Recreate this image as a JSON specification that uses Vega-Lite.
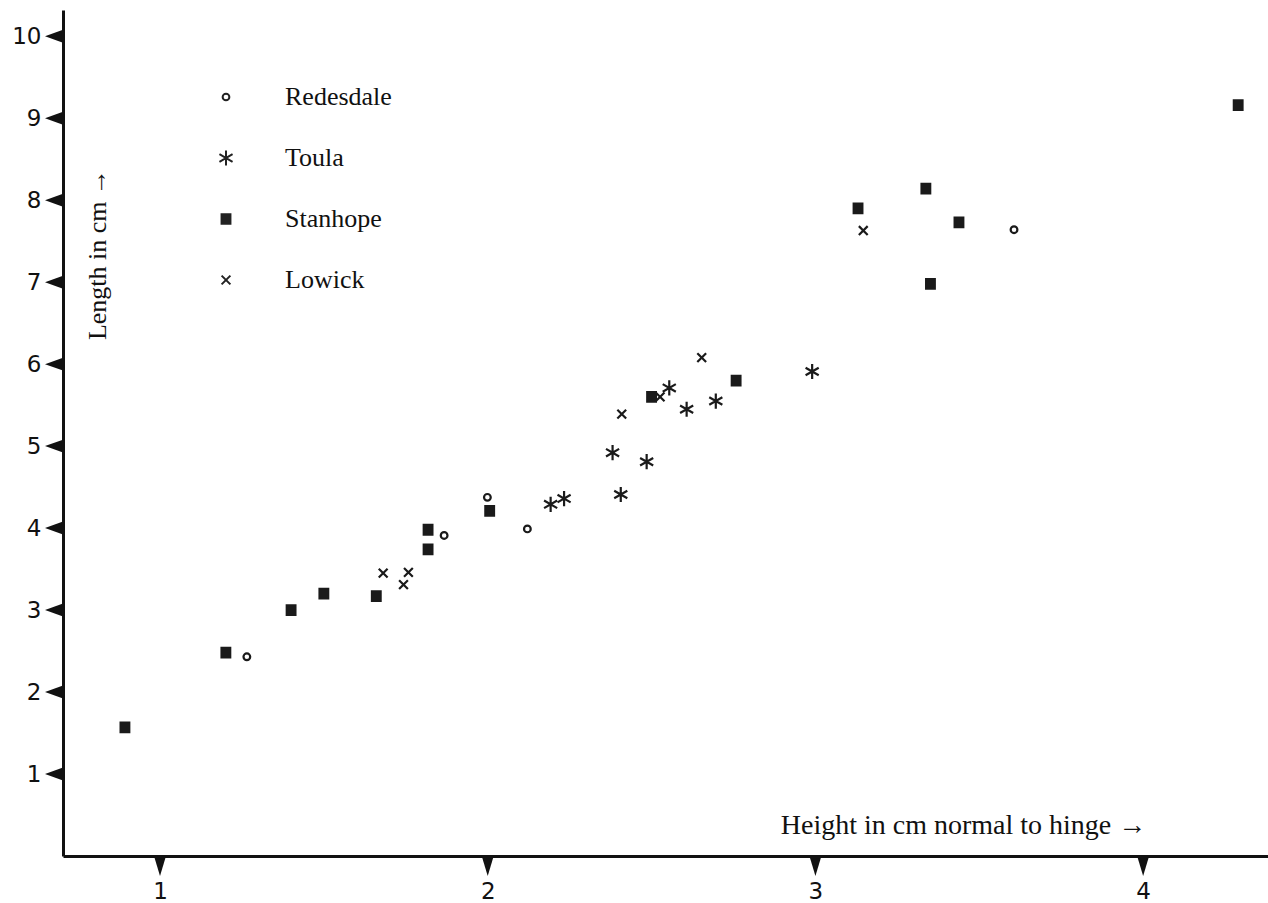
{
  "$schema": "https://vega.github.io/schema/vega-lite/v6.json",
  "width": 1205,
  "height": 846,
  "autosize": {"type": "none"},
  "padding": {"left": 63, "top": 10, "right": 0, "bottom": 47},
  "background": "white",
  "config": {
    "view": {"stroke": null},
    "axis": {
      "domainColor": "#111111",
      "domainWidth": 3,
      "ticks": false,
      "grid": false,
      "labelFont": "DejaVu Sans",
      "labelFontSize": 23,
      "labelColor": "#111111",
      "titleFont": "Liberation Serif",
      "titleFontSize": 28,
      "titleFontWeight": "normal",
      "titleColor": "#111111"
    },
    "legend": {
      "orient": "none",
      "legendX": 150,
      "legendY": 74,
      "padding": 0,
      "rowPadding": 35,
      "labelFont": "Liberation Serif",
      "labelFontSize": 26,
      "labelColor": "#111111",
      "labelOffset": 46,
      "title": null,
      "symbolSize": 256,
      "symbolStrokeColor": "#222222",
      "symbolStrokeWidth": 2
    }
  },
  "layer": [
    {
      "data": {
        "values": [
          {"h": 1.265, "l": 2.43, "s": "Redesdale"},
          {"h": 1.867, "l": 3.91, "s": "Redesdale"},
          {"h": 1.999, "l": 4.375, "s": "Redesdale"},
          {"h": 2.121, "l": 3.99, "s": "Redesdale"},
          {"h": 3.606, "l": 7.64, "s": "Redesdale"},
          {"h": 2.192, "l": 4.29, "s": "Toula"},
          {"h": 2.233, "l": 4.36, "s": "Toula"},
          {"h": 2.381, "l": 4.92, "s": "Toula"},
          {"h": 2.406, "l": 4.41, "s": "Toula"},
          {"h": 2.485, "l": 4.81, "s": "Toula"},
          {"h": 2.554, "l": 5.71, "s": "Toula"},
          {"h": 2.607, "l": 5.45, "s": "Toula"},
          {"h": 2.696, "l": 5.55, "s": "Toula"},
          {"h": 2.99, "l": 5.91, "s": "Toula"},
          {"h": 0.893, "l": 1.57, "s": "Stanhope"},
          {"h": 1.201, "l": 2.48, "s": "Stanhope"},
          {"h": 1.40, "l": 3.0, "s": "Stanhope"},
          {"h": 1.50, "l": 3.2, "s": "Stanhope"},
          {"h": 1.66, "l": 3.17, "s": "Stanhope"},
          {"h": 1.818, "l": 3.98, "s": "Stanhope"},
          {"h": 1.818, "l": 3.74, "s": "Stanhope"},
          {"h": 2.006, "l": 4.21, "s": "Stanhope"},
          {"h": 2.50, "l": 5.60, "s": "Stanhope"},
          {"h": 2.758, "l": 5.80, "s": "Stanhope"},
          {"h": 3.13, "l": 7.90, "s": "Stanhope"},
          {"h": 3.337, "l": 8.14, "s": "Stanhope"},
          {"h": 3.438, "l": 7.73, "s": "Stanhope"},
          {"h": 3.351, "l": 6.98, "s": "Stanhope"},
          {"h": 4.29, "l": 9.16, "s": "Stanhope"},
          {"h": 1.681, "l": 3.45, "s": "Lowick"},
          {"h": 1.758, "l": 3.46, "s": "Lowick"},
          {"h": 1.743, "l": 3.31, "s": "Lowick"},
          {"h": 2.409, "l": 5.39, "s": "Lowick"},
          {"h": 2.526, "l": 5.60, "s": "Lowick"},
          {"h": 2.653, "l": 6.08, "s": "Lowick"},
          {"h": 3.146, "l": 7.63, "s": "Lowick"}
        ]
      },
      "mark": {"type": "point", "filled": false, "stroke": "#1a1a1a", "strokeWidth": 2.2, "size": 256, "opacity": 1},
      "encoding": {
        "x": {
          "field": "h", "type": "quantitative",
          "scale": {"domain": [0.704, 4.381], "nice": false, "zero": false},
          "axis": {
            "title": "Height in cm normal to hinge  →",
            "values": [1, 2, 3, 4],
            "format": "d",
            "labelPadding": 24,
            "titleX": 900, "titleY": -31,
            "titleAlign": "center", "titleBaseline": "middle"
          }
        },
        "y": {
          "field": "l", "type": "quantitative",
          "scale": {"domain": [0, 10.32], "nice": false, "zero": false},
          "axis": {
            "title": "Length in cm   →",
            "values": [1, 2, 3, 4, 5, 6, 7, 8, 9, 10],
            "format": "d",
            "labelPadding": 22,
            "titleAngle": 270,
            "titleX": 34, "titleY": 244,
            "titleFontSize": 26,
            "titleAlign": "center", "titleBaseline": "middle"
          }
        },
        "shape": {
          "field": "s", "type": "nominal",
          "scale": {
            "domain": ["Redesdale", "Toula", "Stanhope", "Lowick"],
            "range": [
              "M0.42,0A0.42,0.42 0 1,1 -0.42,0A0.42,0.42 0 1,1 0.42,0Z",
              "M0,-0.95L0,0.95M-0.82,-0.47L0.82,0.47M-0.82,0.47L0.82,-0.47",
              "M-0.68,-0.6L0.68,-0.6M-0.68,-0.36L0.68,-0.36M-0.68,-0.12L0.68,-0.12M-0.68,0.12L0.68,0.12M-0.68,0.36L0.68,0.36M-0.68,0.6L0.68,0.6",
              "M-0.55,-0.55L0.55,0.55M-0.55,0.55L0.55,-0.55"
            ]
          },
          "legend": {
            "encode": {
              "symbols": {
                "update": {
                  "stroke": {"value": "#1a1a1a"},
                  "strokeWidth": {"value": 2.2},
                  "size": {"value": 256},
                  "opacity": {"value": 1}
                }
              }
            }
          }
        }
      }
    },
    {
      "data": {"values": [{"l": 1}, {"l": 2}, {"l": 3}, {"l": 4}, {"l": 5}, {"l": 6}, {"l": 7}, {"l": 8}, {"l": 9}, {"l": 10}]},
      "mark": {"type": "point", "filled": true, "color": "#111111", "opacity": 1, "size": 1296, "shape": "M-1,0L0,-0.36L0,0.36Z", "clip": false},
      "encoding": {
        "x": {"datum": 0.704, "type": "quantitative", "scale": {"domain": [0.704, 4.381], "nice": false, "zero": false}},
        "y": {"field": "l", "type": "quantitative", "scale": {"domain": [0, 10.32], "nice": false, "zero": false}}
      }
    },
    {
      "data": {"values": [{"h": 1}, {"h": 2}, {"h": 3}, {"h": 4}]},
      "mark": {"type": "point", "filled": true, "color": "#111111", "opacity": 1, "size": 1600, "shape": "M0,1L-0.3,0L0.3,0Z", "clip": false},
      "encoding": {
        "x": {"field": "h", "type": "quantitative", "scale": {"domain": [0.704, 4.381], "nice": false, "zero": false}},
        "y": {"datum": 0, "type": "quantitative", "scale": {"domain": [0, 10.32], "nice": false, "zero": false}}
      }
    }
  ]
}
